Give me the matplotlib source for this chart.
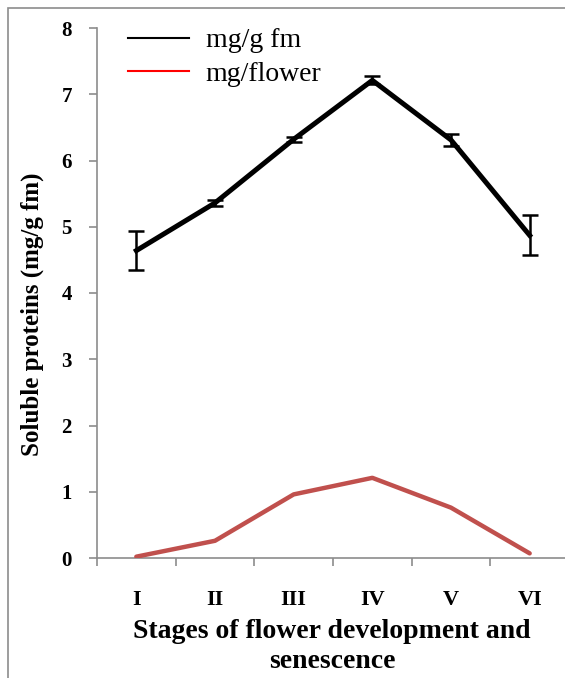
import matplotlib
matplotlib.use("Agg")
import matplotlib.pyplot as plt
from matplotlib.lines import Line2D
from matplotlib.patches import Rectangle
import numpy as np

stages = ["I", "II", "III", "IV", "V", "VI"]
mg_g_fm = [4.64, 5.36, 6.32, 7.21, 6.31, 4.87]
mg_g_fm_err = [0.30, 0.05, 0.04, 0.06, 0.09, 0.30]
mg_flower = [0.02, 0.26, 0.96, 1.21, 0.76, 0.07]
yticks = [0, 1, 2, 3, 4, 5, 6, 7, 8]

plt.rcParams['font.family'] = ['Liberation Serif', 'DejaVu Serif']

fig = plt.figure(figsize=(5.65, 6.78), dpi=100)
fig.patches.append(Rectangle((8/565, -0.1), 1.2, (678-8)/678 + 0.1, transform=fig.transFigure,
                             fill=False, edgecolor='#8c8c8c', linewidth=1.2))

ax = fig.add_axes([97/565, (678-558)/678, 472/565, 530/678])
x = np.arange(len(stages))

ax.plot(x, mg_flower, color='#C0504D', linewidth=3.2, solid_capstyle='round', zorder=3)
ax.errorbar(x, mg_g_fm, yerr=mg_g_fm_err, color='black', linewidth=3.6, elinewidth=1.8,
            capsize=6, capthick=1.8, zorder=4)

ax.set_xlim(-0.5, 5.5)
ax.set_ylim(0, 8)
ax.set_yticks(yticks)
ax.set_yticklabels([str(t) for t in yticks], fontsize=15, fontweight='bold')
ax.set_xticks(x)
ax.set_xticklabels(stages, fontsize=16, fontweight='bold')
ax.set_xticks(np.arange(-0.5, 6.0, 1.0), minor=True)
ax.tick_params(axis='x', which='major', length=0, pad=23)
ax.tick_params(axis='x', which='minor', length=6, color='#8c8c8c', width=1.2, direction='out')
ax.tick_params(axis='y', length=6, color='#8c8c8c', width=1.2, direction='out', pad=12)

for s in ['top', 'right']:
    ax.spines[s].set_visible(False)
for s in ['left', 'bottom']:
    ax.spines[s].set_color('#8c8c8c')
    ax.spines[s].set_linewidth(1.2)

ax.set_ylabel("Soluble proteins (mg/g fm)", fontsize=18, fontweight='bold')
ax.yaxis.set_label_coords(-(97-44)/472, (558-314)/530, transform=ax.transAxes)
ax.set_xlabel("Stages of flower development and\nsenescence", fontsize=20, fontweight='bold',
              linespacing=1.25)
ax.xaxis.set_label_coords((332-97)/472, -(619-558)/530, transform=ax.transAxes)
ax.xaxis.label.set_verticalalignment('top')

handles = [Line2D([], [], color='black', linewidth=1.5), Line2D([], [], color='red', linewidth=1.5)]
leg = ax.legend(handles, ["mg/g fm", "mg/flower"], loc='upper left',
                bbox_to_anchor=((128-97)/472, 1.0), borderpad=0, borderaxespad=0,
                frameon=False, fontsize=20, handlelength=2.2, handletextpad=0.6, labelspacing=0.28)

fig.savefig("out.png", dpi=100)
